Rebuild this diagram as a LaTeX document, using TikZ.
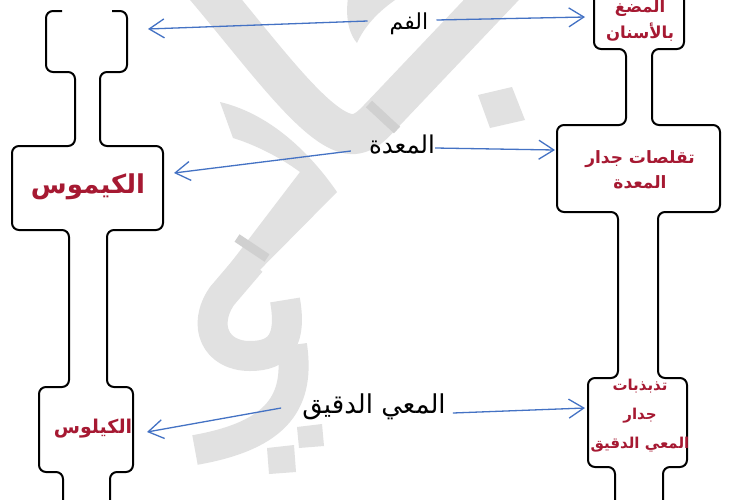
\documentclass[tikz,border=0pt]{standalone}
\usepackage{fontspec}
\usetikzlibrary{arrows.meta}
\TeXXeTstate=1
\newfontfamily\arabicfont[Script=Arabic]{DejaVu Sans}
\definecolor{arrowblue}{RGB}{68,114,196}
\definecolor{boxred}{RGB}{166,25,50}
\definecolor{wmgray}{RGB}{225,225,225}
\definecolor{wmdark}{RGB}{208,208,208}
\begin{document}
\begin{tikzpicture}[x=1pt,y=-1pt,
  outline/.style={draw=black, line width=2pt, rounded corners=7pt, line join=round},
  arr/.style={draw=arrowblue, line width=1.3pt, -{Straight Barb[length=15pt,width=19pt,line width=1.3pt]}},
  lbl/.style={text=black, inner sep=0pt},
  boxtxt/.style={text=boxred, align=center, inner sep=0pt},
  wm/.style={draw=wmgray, line width=32pt, line join=round},
  wmstripe/.style={draw=wmdark, line width=9pt},
]
\useasboundingbox[fill=white] (0,0) rectangle (731,499);

% watermark
\fill[wmgray] (348,-2) .. controls (345,20) and (350,35) .. (357,43) .. controls (365,25) and (380,10) .. (398,-2) -- cycle;
\draw[wm, line width=40pt] (195,-25) .. controls (260,50) and (320,138) .. (355,134) .. controls (368,132) and (375,122) .. (385,112) -- (515,-25);
\draw[wmstripe] (369,104) -- (397,130);
\fill[wmgray] (220,102) .. controls (275,115) and (315,160) .. (337,192) -- (240,290) -- (210,290) -- (300,172) .. controls (270,150) and (240,140) .. (233,138) -- cycle;
\draw[wm, line width=30pt] (251,262) -- (222,296) .. controls (202,325) and (215,356) .. (250,356) .. controls (280,356) and (292,340) .. (285,300);
\draw[wm, line width=30pt] (292,345) .. controls (300,400) and (280,435) .. (195,450);
\draw[wmstripe] (237,238) -- (267,258);
\fill[wmgray] (478,95) -- (512,87) -- (525,120) -- (490,128) -- cycle;
\fill[wmgray] (267,448) -- (294,445) -- (296,472) -- (269,474) -- cycle;
\fill[wmgray] (297,427) -- (322,424) -- (324,446) -- (299,448) -- cycle;

% left column outline
\draw[outline] (62,11) -- (46,11) -- (46,72) -- (75,72) -- (75,146) -- (12,146) -- (12,230) -- (69,230) -- (69,387) -- (39,387) -- (39,472) -- (63,472) -- (63,515);
\draw[outline] (112,11) -- (127,11) -- (127,72) -- (100,72) -- (100,146) -- (163,146) -- (163,230) -- (107,230) -- (107,387) -- (133,387) -- (133,472) -- (110,472) -- (110,515);

% right column outline
\draw[outline] (594,-15) -- (594,49) -- (626,49) -- (626,125) -- (557,125) -- (557,212) -- (618,212) -- (618,378) -- (588,378) -- (588,467) -- (615,467) -- (615,515);
\draw[outline] (684,-15) -- (684,49) -- (652,49) -- (652,125) -- (720,125) -- (720,212) -- (658,212) -- (658,378) -- (687,378) -- (687,467) -- (663,467) -- (663,515);

% box texts
\node[boxtxt, font=\arabicfont\bfseries\fontsize{26}{30}\selectfont] (chyme) at (88,187) {\beginR الكيموس\endR};
\node[boxtxt, font=\arabicfont\bfseries\fontsize{19}{26}\selectfont] (chyle) at (93,429) {\beginR الكيلوس\endR};
\node[boxtxt, font=\arabicfont\bfseries\fontsize{16.5}{26}\selectfont] (chew) at (640,21) {\beginR المضغ\endR\\\beginR بالأسنان\endR};
\node[boxtxt, font=\arabicfont\bfseries\fontsize{17}{25}\selectfont] (contract) at (640,170) {\beginR تقلصات جدار\endR\\\beginR المعدة\endR};
\node[boxtxt, font=\arabicfont\bfseries\fontsize{15}{29}\selectfont] (vibr) at (640,416) {\beginR تذبذبات\endR\\\beginR جدار\endR\\\beginR المعي الدقيق\endR};

% labels
\node[lbl, font=\arabicfont\fontsize{22}{26}\selectfont] (mouth) at (409,24) {\beginR الفم\endR};
\node[lbl, font=\arabicfont\fontsize{24.5}{28}\selectfont] (stomach) at (402,145) {\beginR المعدة\endR};
\node[lbl, font=\arabicfont\fontsize{26}{30}\selectfont] (intestine) at (374,407) {\beginR المعي الدقيق\endR};

% arrow targets
\coordinate (mL) at (148,29);
\coordinate (mR) at (585,17);
\coordinate (sL) at (174,173);
\coordinate (sR) at (555,150);
\coordinate (iL) at (147,432);
\coordinate (iR) at (585,408);

% arrows
\draw[arr] ([xshift=-22pt,yshift=3pt]mouth.west) -- (mL);
\draw[arr] ([xshift=8pt,yshift=4pt]mouth.east) -- (mR);
\draw[arr] ([xshift=-18pt,yshift=-6pt]stomach.west) -- (sL);
\draw[arr] ([xshift=0pt,yshift=-3pt]stomach.east) -- (sR);
\draw[arr] ([xshift=-21pt,yshift=-1pt]intestine.west) -- (iL);
\draw[arr] ([xshift=7pt,yshift=-6pt]intestine.east) -- (iR);
\end{tikzpicture}
\end{document}
